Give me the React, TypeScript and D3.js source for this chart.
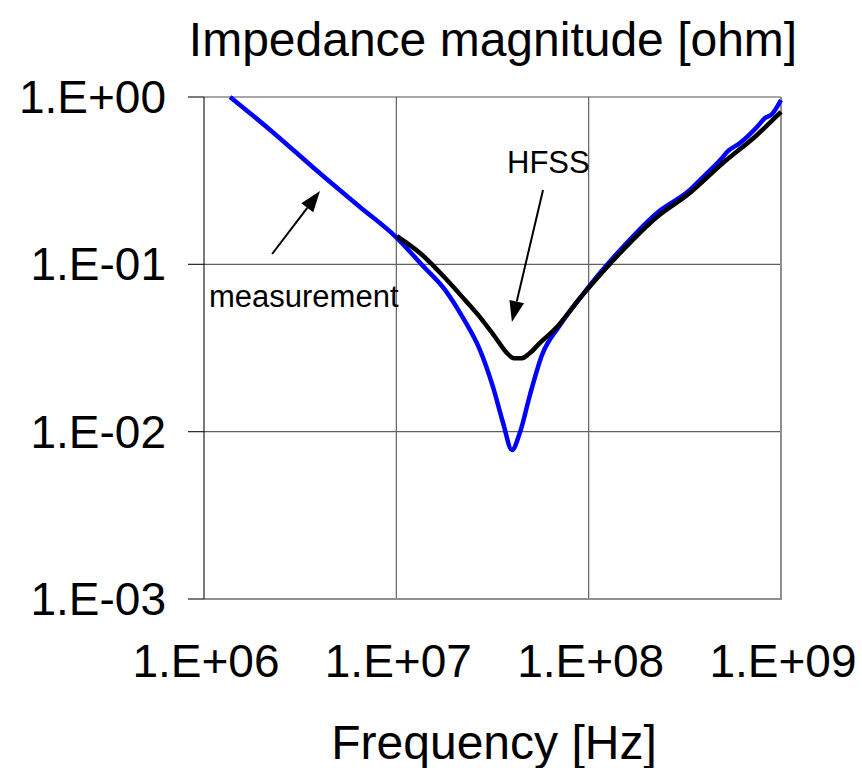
import React from "react";
import * as d3 from "d3";

// Measured impedance (frequency in Hz, |Z| in ohm)
const measFreq = [
  1.366e6, 2.2e6, 4.16e6, 6.47e6, 1.008e7, 1.376e7, 1.791e7, 2.222e7, 2.72e7,
  3.18e7, 3.59e7, 3.99e7, 4.4e7, 4.95e7, 5.72e7, 7.1e7, 9.02e7, 1.145e8,
  1.509e8, 2.265e8, 3.36e8, 4.03e8, 4.99e8, 5.24e8, 6.12e8, 7.5e8, 8.26e8,
  8.98e8, 1.0e9,
];
const measZ = [
  1.0, 0.638, 0.337, 0.22, 0.1436, 0.0977, 0.0703, 0.0478, 0.0308, 0.0185,
  0.01127, 0.00777, 0.00995, 0.01656, 0.0287, 0.0434, 0.0629, 0.0888, 0.127,
  0.203, 0.278, 0.342, 0.438, 0.469, 0.531, 0.662, 0.749, 0.791, 0.959,
];

// HFSS simulation
const hfssFreq = [
  1.008e7, 1.327e7, 1.834e7, 2.275e7, 2.72e7, 3.26e7, 3.76e7, 4.09e7, 4.5e7,
  4.95e7, 5.58e7, 6.84e7, 9.02e7, 1.145e8, 1.509e8, 2.265e8, 3.36e8, 4.99e8,
  7.5e8, 1.0e9,
];
const hfssZ = [
  0.1476, 0.1169, 0.0806, 0.0612, 0.0484, 0.0368, 0.0295, 0.0275, 0.0275,
  0.0295, 0.0339, 0.0422, 0.0629, 0.0863, 0.122, 0.192, 0.267, 0.403, 0.593,
  0.814,
];

const xTicks = [1e6, 1e7, 1e8, 1e9];
const xTickLabels = ["1.E+06", "1.E+07", "1.E+08", "1.E+09"];
const yTicks = [1, 0.1, 0.01, 0.001];
const yTickLabels = ["1.E+00", "1.E-01", "1.E-02", "1.E-03"];

// annotation arrows: [tail frequency, tail |Z|, head frequency, head |Z|]
const measArrow = [2.26e6, 0.1153, 4.01e6, 0.274];
const hfssArrow = [5.79e7, 0.278, 3.99e7, 0.0452];

const W = 862;
const H = 768;
const left = 204;
const right = 781;
const top = 97;
const bottom = 599;
const FONT = "'Liberation Sans', Arial, Helvetica, sans-serif";

const x = d3.scaleLog().domain([1e6, 1e9]).range([left, right]);
const y = d3.scaleLog().domain([1e-3, 1]).range([bottom, top]);

function Arrow({ a }: { a: number[] }) {
  const x1 = x(a[0]);
  const y1 = y(a[1]);
  const x2 = x(a[2]);
  const y2 = y(a[3]);
  const ang = Math.atan2(y2 - y1, x2 - x1);
  const len = 21;
  const half = 7.5;
  const bx = x2 - len * Math.cos(ang);
  const by = y2 - len * Math.sin(ang);
  const px = -Math.sin(ang) * half;
  const py = Math.cos(ang) * half;
  return (
    <g>
      <line x1={x1} y1={y1} x2={bx} y2={by} stroke="#000" strokeWidth={2} />
      <polygon
        points={`${x2},${y2} ${bx + px},${by + py} ${bx - px},${by - py}`}
        fill="#000"
      />
    </g>
  );
}

export default function App() {
  const line = d3
    .line<[number, number]>()
    .x((d) => x(d[0]))
    .y((d) => y(d[1]))
    .curve(d3.curveMonotoneX);
  const meas = line(measFreq.map((f, i) => [f, measZ[i]]));
  const hfss = line(hfssFreq.map((f, i) => [f, hfssZ[i]]));

  return (
    <svg
      width={W}
      height={H}
      style={{ position: "absolute", left: 0, top: 0, background: "#fff" }}
      fontFamily={FONT}
    >
      <rect x={0} y={0} width={W} height={H} fill="#fff" />
      <defs>
        <clipPath id="plot">
          <rect x={left} y={top - 3} width={right - left + 3} height={bottom - top + 3} />
        </clipPath>
      </defs>

      {/* grid */}
      {xTicks.slice(1, -1).map((t) => (
        <line key={"gx" + t} x1={x(t)} x2={x(t)} y1={top} y2={bottom} stroke="#606060" strokeWidth={1.2} />
      ))}
      {yTicks.slice(1, -1).map((t) => (
        <line key={"gy" + t} x1={left} x2={right} y1={y(t)} y2={y(t)} stroke="#606060" strokeWidth={1.2} />
      ))}

      {/* plot frame */}
      <line x1={left} x2={right} y1={top} y2={top} stroke="#505050" strokeWidth={1.2} />
      <line x1={right} x2={right} y1={top} y2={bottom} stroke="#909090" strokeWidth={2} />
      <line x1={left} x2={right + 1} y1={bottom} y2={bottom} stroke="#909090" strokeWidth={2} />
      <line x1={left} x2={left} y1={top} y2={bottom} stroke="#222" strokeWidth={1.2} />

      {/* y ticks */}
      {yTicks.map((t) => (
        <line key={"ty" + t} x1={188} x2={left} y1={y(t)} y2={y(t)} stroke="#222" strokeWidth={1.2} />
      ))}

      {/* series */}
      <g clipPath="url(#plot)">
        <path d={meas ?? ""} fill="none" stroke="#0000ff" strokeWidth={4.5} strokeLinejoin="round" />
        <path d={hfss ?? ""} fill="none" stroke="#000" strokeWidth={4.5} strokeLinejoin="round" />
      </g>

      {/* annotations */}
      <Arrow a={measArrow} />
      <Arrow a={hfssArrow} />
      <text x={209} y={307} fontSize={31} fill="#000">measurement</text>
      <text x={507} y={173} fontSize={31} fill="#000">HFSS</text>

      {/* tick labels */}
      {yTicks.map((t, i) => (
        <text key={"ly" + t} x={166} y={y(t) + 16} fontSize={46} textAnchor="end" fill="#000">
          {yTickLabels[i]}
        </text>
      ))}
      {xTicks.map((t, i) => (
        <text key={"lx" + t} x={x(t) + 2} y={677} fontSize={46} textAnchor="middle" fill="#000">
          {xTickLabels[i]}
        </text>
      ))}

      {/* titles */}
      <text x={493} y={56} fontSize={48} textAnchor="middle" fill="#000">
        Impedance magnitude [ohm]
      </text>
      <text x={494} y={759} fontSize={48} textAnchor="middle" fill="#000">
        Frequency [Hz]
      </text>
    </svg>
  );
}
